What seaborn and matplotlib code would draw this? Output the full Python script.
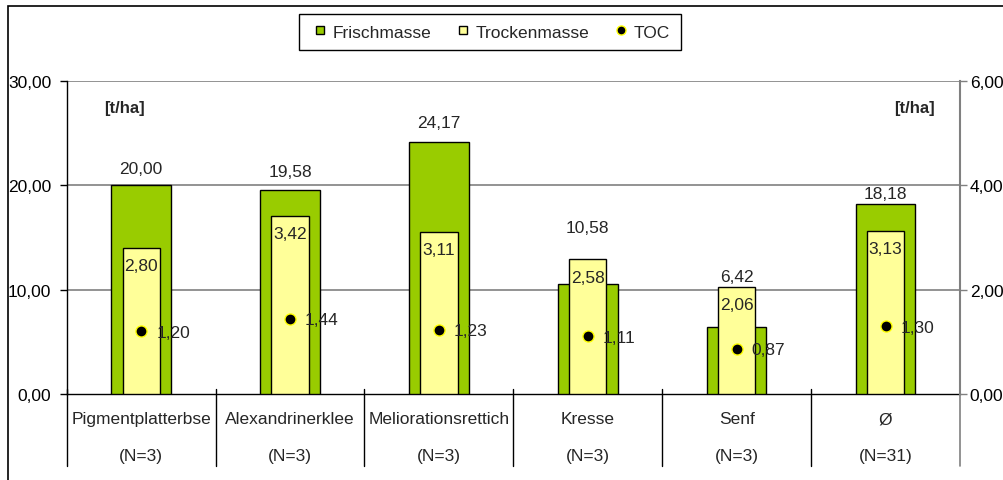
import numpy as np
import matplotlib
matplotlib.use("Agg")
import matplotlib.pyplot as plt
from matplotlib.lines import Line2D
from matplotlib.patches import Rectangle
from matplotlib.ticker import FuncFormatter, FixedLocator
import matplotlib.transforms as mtransforms
import seaborn as sns

# --- data -------------------------------------------------------------
categories = ["Pigmentplatterbse", "Alexandrinerklee", "Meliorationsrettich",
              "Kresse", "Senf", "Ø"]
sample_sizes = ["(N=3)", "(N=3)", "(N=3)", "(N=3)", "(N=3)", "(N=31)"]
frischmasse = [20.00, 19.58, 24.17, 10.58, 6.42, 18.18]     # t/ha, left axis
trockenmasse = [2.80, 3.42, 3.11, 2.58, 2.06, 3.13]         # t/ha, right axis
toc = [1.20, 1.44, 1.23, 1.11, 0.87, 1.30]                  # t/ha, right axis

# lift of the Frischmasse value labels above the taller bar (pixels)
fm_label_lift = [17, 18, 19, 32, 10, 11]

GREEN = "#99CC00"
YELLOW = "#FFFF99"
DOT_EDGE = "#FFFF00"
GRID = "#808080"

sns.set_theme(style="white")
plt.rcParams["font.family"] = ["Liberation Sans", "DejaVu Sans"]
plt.rcParams["font.size"] = 12

W, H, DPI = 1004, 481, 100
fig = plt.figure(figsize=(W / DPI, H / DPI), dpi=DPI)
fig.patch.set_facecolor("white")

# plot area in pixels
x0, x1 = 66.7, 960.0
ytop, ybot = 82.0, 395.0
ax = fig.add_axes([x0 / W, 1 - ybot / H, (x1 - x0) / W, (ybot - ytop) / H])
ax2 = ax.twinx()

px2pt = 72.0 / DPI

# Frischmasse bars (left axis)
sns.barplot(x=categories, y=frischmasse, ax=ax, width=0.4, color=GREEN,
            saturation=1, edgecolor="black", linewidth=1, zorder=3)
# Trockenmasse bars (right axis)
sns.barplot(x=categories, y=trockenmasse, ax=ax2, width=0.25, color=YELLOW,
            saturation=1, edgecolor="black", linewidth=1, zorder=3)
# TOC points (right axis)
sns.stripplot(x=categories, y=toc, ax=ax2, jitter=False, color="black",
              edgecolor=DOT_EDGE, linewidth=1, size=8, zorder=5)

ax.set_ylim(0, 30)
ax2.set_ylim(0, 6)
ax.set_xlim(-0.5, len(categories) - 0.5)
ax2.set_xlim(-0.5, len(categories) - 0.5)

fmt = FuncFormatter(lambda v, p: f"{v:.2f}".replace(".", ","))
ax.yaxis.set_major_locator(FixedLocator([0, 10, 20, 30]))
ax2.yaxis.set_major_locator(FixedLocator([0, 2, 4, 6]))
ax.yaxis.set_major_formatter(fmt)
ax2.yaxis.set_major_formatter(fmt)

ax.grid(False)
ax2.grid(False)
for yv in [10, 20, 30]:
    ax.axhline(yv, color=GRID, lw=1.2, zorder=1)

ax.set_xticks([])
ax2.set_xticks([])
ax.set_xlabel("")
ax.set_ylabel("")
ax2.set_ylabel("")

ax.tick_params(axis="y", which="major", direction="out", length=5, width=1,
               color="black", pad=6, labelsize=12.5, labelcolor="black", left=True)
ax2.tick_params(axis="y", which="major", direction="out", length=5, width=1,
                color=GRID, pad=2, labelsize=12.5, labelcolor="black", right=True)

for a in (ax, ax2):
    a.spines["top"].set_visible(False)
    a.spines["left"].set_visible(False)
    a.spines["right"].set_visible(False)
    a.spines["bottom"].set_visible(False)
    a.patch.set_visible(False)
ax.spines["left"].set_visible(True)
ax.spines["left"].set_color("black")
ax.spines["left"].set_linewidth(1)
ax2.spines["right"].set_visible(True)
ax2.spines["right"].set_color(GRID)
ax2.spines["right"].set_linewidth(1.5)
ax.spines["bottom"].set_visible(True)
ax.spines["bottom"].set_color("black")
ax.spines["bottom"].set_linewidth(1)

# category table below the plot area
trans = mtransforms.blended_transform_factory(ax.transData, ax.transAxes)
ph = ybot - ytop
for i, xb in enumerate(np.arange(-0.5, len(categories), 1.0)):
    col = GRID if i == len(categories) else "black"
    ax.plot([xb, xb], [5 / ph, -(467 - ybot) / ph], transform=trans,
            color=col, lw=1.2 if i == len(categories) else 1,
            clip_on=False, zorder=6)
for i, (c, n) in enumerate(zip(categories, sample_sizes)):
    ax.text(i, -(420 - ybot) / ph, c, transform=trans, ha="center",
            va="center", fontsize=12.5)
    ax.text(i, -(457 - ybot) / ph, n, transform=trans, ha="center",
            va="center", fontsize=12.5)

# value labels
def fmt2(v):
    return f"{v:.2f}".replace(".", ",")

for i, (fm, tm, tc, lift) in enumerate(zip(frischmasse, trockenmasse, toc,
                                           fm_label_lift)):
    top = max(fm, tm * 5)
    ax.annotate(fmt2(fm), (i, top), xytext=(0, lift * px2pt),
                textcoords="offset points", ha="center", va="center",
                fontsize=12.5, zorder=7)
    ax2.annotate(fmt2(tm), (i, tm), xytext=(0, -18 * px2pt),
                 textcoords="offset points", ha="center", va="center",
                 fontsize=12.5, zorder=7)
    ax2.annotate(fmt2(tc), (i, tc), xytext=(15 * px2pt, -1 * px2pt),
                 textcoords="offset points", ha="left", va="center",
                 fontsize=12.5, zorder=7)

# unit labels
fig.text(124 / W, 1 - 108 / H, "[t/ha]", ha="center", va="center",
         fontsize=12, fontweight="bold")
fig.text(914 / W, 1 - 108 / H, "[t/ha]", ha="center", va="center",
         fontsize=12, fontweight="bold")

# legend
handles = [
    Line2D([], [], linestyle="none", marker="s", markersize=6,
           markerfacecolor=GREEN, markeredgecolor="black", markeredgewidth=1),
    Line2D([], [], linestyle="none", marker="s", markersize=6,
           markerfacecolor=YELLOW, markeredgecolor="black", markeredgewidth=1),
    Line2D([], [], linestyle="none", marker="o", markersize=6.5,
           markerfacecolor="black", markeredgecolor=DOT_EDGE, markeredgewidth=1),
]
leg = fig.legend(handles, ["Frischmasse", "Trockenmasse", "TOC"], ncol=3,
                 loc="center", bbox_to_anchor=(490 / W, 1 - 33 / H),
                 fancybox=False, frameon=True, edgecolor="black",
                 framealpha=1, fontsize=12.5, handlelength=1.2,
                 handletextpad=0.15, columnspacing=1.2, borderpad=0.6,
                 borderaxespad=0)
leg.get_frame().set_linewidth(1)

# outer chart frame
fig.add_artist(Rectangle((8 / W, -0.2), 2.0, (H - 7) / H + 0.2,
                         transform=fig.transFigure, fill=False,
                         edgecolor="black", lw=1.2))

fig.savefig("out.png", dpi=DPI)
